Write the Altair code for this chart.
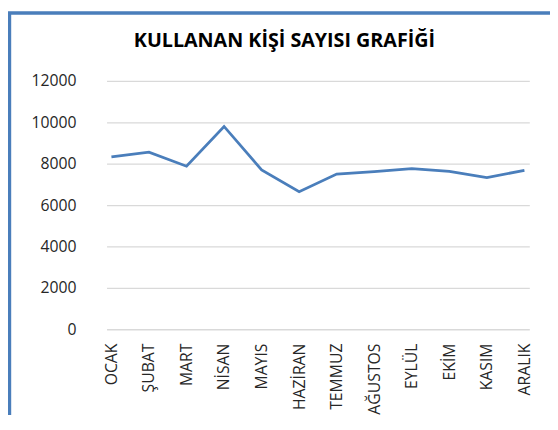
import altair as alt
import pandas as pd

months = ["OCAK", "ŞUBAT", "MART", "NİSAN", "MAYIS", "HAZİRAN",
          "TEMMUZ", "AĞUSTOS", "EYLÜL", "EKİM", "KASIM", "ARALIK"]
users = [8330, 8560, 7880, 9800, 7700, 6650, 7500, 7620, 7760, 7630, 7330, 7680]
y_ticks = [0, 2000, 4000, 6000, 8000, 10000, 12000]
title_text = "KULLANAN KİŞİ SAYISI GRAFİĞİ"

df = pd.DataFrame({"ay": months, "kisi": users})

line = alt.Chart(df).mark_line(color="#4a7ebb", strokeWidth=2.8).encode(
    x=alt.X("ay:N", sort=months, title=None,
            scale=alt.Scale(type="point", padding=0.13),
            axis=alt.Axis(labelAngle=-90, labelPadding=14, ticks=False, domain=False,
                          grid=False, labelFont="Open Sans", labelFontSize=16,
                          labelColor="#262626")),
    y=alt.Y("kisi:Q", title=None,
            scale=alt.Scale(domain=[0, 12000], nice=False),
            axis=alt.Axis(values=y_ticks, format="d", ticks=False, domain=False,
                          labelPadding=31, labelFont="Open Sans", labelFontSize=16,
                          labelColor="#262626", gridColor="#d9d9d9", gridWidth=1.3)),
)

border = alt.Chart(pd.DataFrame({"b": [0]})).mark_rect(
    filled=False, stroke="#4a7ebb", strokeWidth=3.5
).encode(
    x=alt.value(-98.5), x2=alt.value(520),
    y=alt.value(-69), y2=alt.value(420),
)

chart = alt.layer(border, line).properties(
    width=429, height=252,
    padding={"left": 100, "top": 71, "right": 21, "bottom": 84},
    autosize=alt.AutoSizeParams(type="none"),
    title=alt.TitleParams(title_text, font="Open Sans", fontSize=20, fontWeight="bold",
                          color="#000000", anchor="middle", frame="group", dx=-34,
                          offset=0, baseline="alphabetic", dy=56),
).configure_view(stroke=None)

chart.save("out.html", embed_options={"renderer": "svg", "actions": False})
